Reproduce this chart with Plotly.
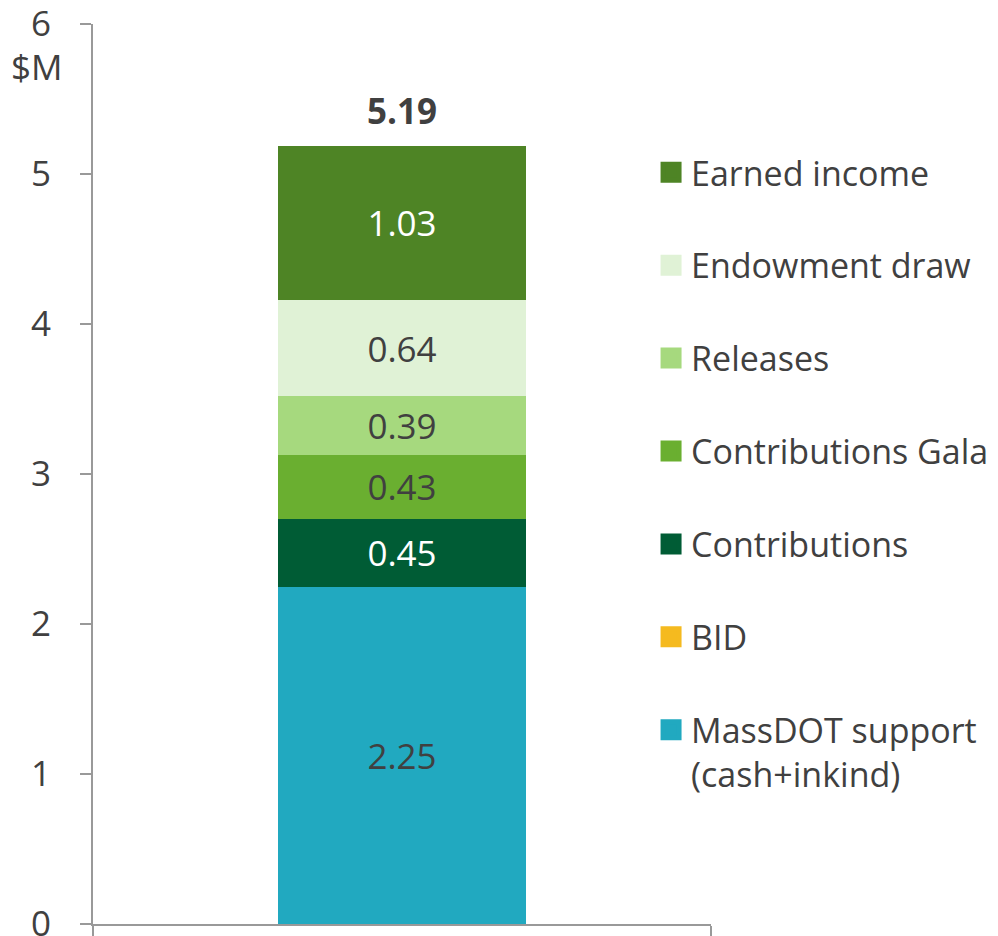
import plotly.graph_objects as go

# data, bottom of the stack first
sources = [
    "MassDOT support<br>(cash+inkind)",
    "BID",
    "Contributions",
    "Contributions Gala",
    "Releases",
    "Endowment draw",
    "Earned income",
]
values = [2.25, 0.0, 0.45, 0.43, 0.39, 0.64, 1.03]
colors = ["#21A9C0", "#F5BA1F", "#005C35", "#6AAF30", "#A6D97E", "#E0F2D6", "#4E8425"]
label_colors = ["#404040", "#404040", "#FFFFFF", "#404040", "#404040", "#404040", "#FFFFFF"]
total = round(sum(values), 2)

y_ticks = [0, 1, 2, 3, 4, 5, 6]

FONT = "Open Sans"
FS = 35
TEXT = "#404040"

fig = go.Figure()

for name, val, col, lcol in zip(sources, values, colors, label_colors):
    fig.add_trace(
        go.Bar(
            x=[0],
            y=[val],
            width=0.4,
            marker=dict(color=col, line=dict(width=0)),
            text=[f"{val:.2f}" if val > 0 else ""],
            textposition="inside",
            insidetextanchor="middle",
            textangle=0,
            textfont=dict(family=FONT, size=FS, color=lcol),
            showlegend=False,
            hoverinfo="skip",
        )
    )

# legend entries, top to bottom
for i, (name, col) in enumerate(zip(sources[::-1], colors[::-1])):
    fig.add_trace(
        go.Scatter(
            x=[None],
            y=[None],
            mode="markers",
            name=name,
            legendgroup=f"g{i}",
            legendrank=i,
            marker=dict(symbol="square", size=16, color=col, line=dict(color=col, width=5)),
        )
    )

# total on top
fig.add_annotation(
    x=0,
    y=total,
    text=f"<b>{total:.2f}</b>",
    showarrow=False,
    yanchor="bottom",
    yshift=10,
    font=dict(family=FONT, size=FS, color=TEXT),
)

# unit label
fig.add_annotation(
    xref="paper",
    x=0,
    y=5.72,
    text="$M",
    showarrow=False,
    xanchor="right",
    xshift=-28,
    font=dict(family=FONT, size=FS, color=TEXT),
)

# the page body adds an 8px offset, so margins are set 8px smaller on the left/top
fig.update_layout(
    width=998,
    height=936,
    barmode="stack",
    plot_bgcolor="white",
    paper_bgcolor="white",
    margin=dict(l=85, r=295, t=16, b=20, pad=0, autoexpand=False),
    font=dict(family=FONT, size=FS, color=TEXT),
    legend=dict(
        x=0.903,
        xanchor="left",
        y=0.867,
        yanchor="top",
        traceorder="grouped",
        tracegroupgap=45.7,
        valign="top",
        font=dict(family=FONT, size=34, color=TEXT),
        bgcolor="rgba(0,0,0,0)",
    ),
)
fig.update_xaxes(
    range=[-0.5, 0.5],
    tickvals=[-0.5, 0.5],
    showticklabels=False,
    ticks="outside",
    ticklen=12,
    tickwidth=2,
    tickcolor="#999999",
    showline=True,
    linecolor="#999999",
    linewidth=2,
    showgrid=False,
    zeroline=False,
    automargin=False,
)
fig.update_yaxes(
    range=[0, 6],
    tickvals=y_ticks,
    ticks="outside",
    ticklen=11,
    tickwidth=2,
    tickcolor="#999999",
    showline=True,
    linecolor="#999999",
    linewidth=2,
    showgrid=False,
    zeroline=False,
    automargin=False,
    ticklabeloverflow="allow",
    ticklabelstandoff=22,
    tickfont=dict(family=FONT, size=FS, color=TEXT),
)

fig.write_html("out.html")
